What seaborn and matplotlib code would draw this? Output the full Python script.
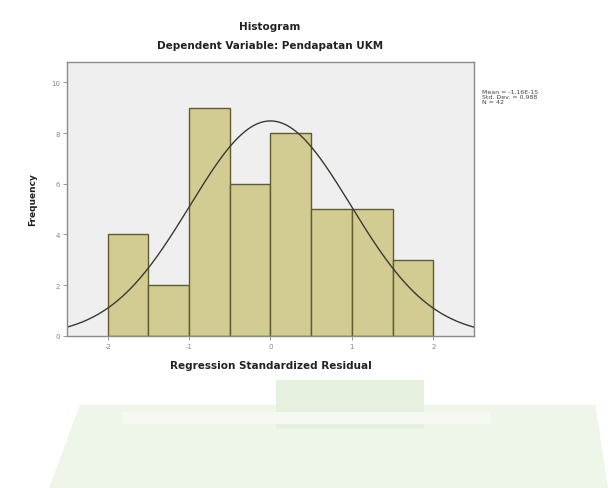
import numpy as np
import pandas as pd
import matplotlib
matplotlib.use("Agg")
import matplotlib.pyplot as plt
import seaborn as sns
from matplotlib.patches import Polygon

# histogram bins (regression standardized residual) and their frequencies
bin_edges = [-2.0, -1.5, -1.0, -0.5, 0.0, 0.5, 1.0, 1.5, 2.0]
counts = [4, 2, 9, 6, 8, 5, 5, 3]

# summary stats printed next to the plot
res_mean = -1.16e-15
res_std = 0.988
n_obs = 42

x_ticks = [-2, -1, 0, 1, 2]
y_ticks = [0, 2, 4, 6, 8, 10]

sns.set_style("white")
plt.rcParams["font.family"] = ["DejaVu Sans"]
plt.rcParams["axes.unicode_minus"] = False

fig = plt.figure(figsize=(6.14, 4.89), dpi=100)
ax = fig.add_axes([0.109, 0.311, 0.663, 0.560])
ax.set_facecolor("#efefef")

centers = [(a + b) / 2 for a, b in zip(bin_edges[:-1], bin_edges[1:])]
df = pd.DataFrame({"residual": centers, "freq": counts})
sns.histplot(data=df, x="residual", weights="freq", bins=bin_edges, ax=ax,
             color="#d2cc93", edgecolor="#5f5c32", linewidth=1.0, alpha=1.0)

# fitted normal curve scaled to the histogram
bw = bin_edges[1] - bin_edges[0]
xs = np.linspace(-2.5, 2.5, 300)
ys = n_obs * bw / (res_std * np.sqrt(2 * np.pi)) * np.exp(-0.5 * ((xs - res_mean) / res_std) ** 2)
sns.lineplot(x=xs, y=ys, ax=ax, color="#3a3a30", linewidth=1.0)

ax.set_xlim(-2.5, 2.5)
ax.set_ylim(0, 10.8)
ax.set_xticks(x_ticks)
ax.set_yticks(y_ticks)
ax.tick_params(axis="both", labelsize=5, colors="#888888", length=3, width=0.6,
               direction="out", pad=2)
ax.tick_params(axis="x", bottom=True)
ax.tick_params(axis="y", left=True)
for s in ax.spines.values():
    s.set_color("#8a8a8a")
    s.set_linewidth(1.0)

ax.set_xlabel("Regression Standardized Residual", fontsize=7.5, fontweight="bold",
              color="#222222", labelpad=8)
ax.set_ylabel("Frequency", fontsize=6.5, fontweight="bold", color="#222222", labelpad=10)

fig.text(0.44, 0.945, "Histogram", ha="center", va="center", fontsize=7.5,
         fontweight="bold", color="#222222")
fig.text(0.44, 0.905, "Dependent Variable: Pendapatan UKM", ha="center", va="center",
         fontsize=7.5, fontweight="bold", color="#222222")

stats_txt = f"Mean = {res_mean:.2E}\nStd. Dev. = {res_std:.3f}\nN = {n_obs}"
fig.text(0.785, 0.815, stats_txt, ha="left", va="top", fontsize=4.5, color="#444444",
         linespacing=0.95)

# faint scanned watermark band at the bottom
fig.patches.append(Polygon([[0.08, 0.0], [0.13, 0.17], [0.97, 0.17], [0.99, 0.0]],
                           closed=True, transform=fig.transFigure,
                           facecolor="#eef5e9", edgecolor="none", zorder=0))
fig.patches.append(Polygon([[0.45, 0.12], [0.45, 0.22], [0.69, 0.22], [0.69, 0.12]],
                           closed=True, transform=fig.transFigure,
                           facecolor="#e5f0de", edgecolor="none", zorder=0))
fig.patches.append(Polygon([[0.2, 0.13], [0.2, 0.155], [0.8, 0.155], [0.8, 0.13]],
                           closed=True, transform=fig.transFigure,
                           facecolor="#f6f8f2", edgecolor="none", zorder=0))

fig.savefig("out.png", dpi=100)
